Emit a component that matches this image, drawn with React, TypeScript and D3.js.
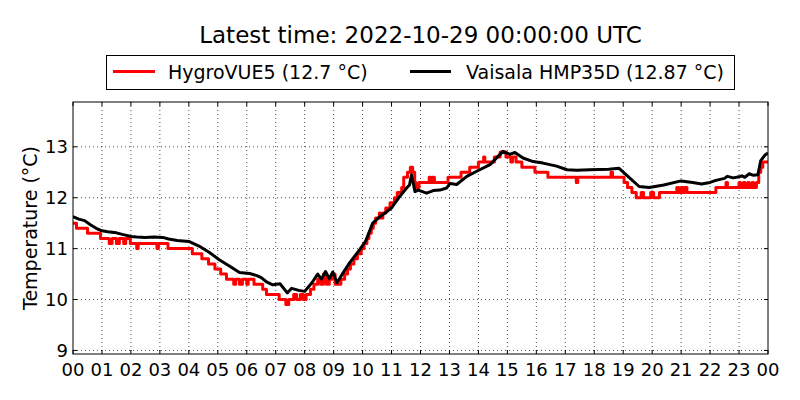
import React from 'react';
import * as d3 from 'd3';

// Vaisala HMP35D, hours since midnight and °C
const hmpHours = [
  0.0, 0.2, 0.4, 0.6, 0.8, 1.0, 1.2, 1.5, 1.7, 2.0, 2.2, 2.5, 2.8, 3.1, 3.3, 3.6, 4.0, 4.35, 4.7, 5.05,
  5.4, 5.75, 6.1, 6.35, 6.5, 6.7, 6.9, 7.15, 7.4, 7.55, 7.8, 8.0, 8.25, 8.45, 8.58, 8.72, 8.85, 8.97, 9.12, 9.3,
  9.55, 9.9, 10.1, 10.35, 10.6, 10.83, 11.0, 11.29, 11.52, 11.62, 11.69, 11.81, 11.92, 12.21, 12.44, 12.67, 12.9, 13.02, 13.25, 13.6,
  13.94, 14.4, 14.85, 15.09, 15.26, 15.54, 15.89, 16.23, 16.7, 17.06, 17.4, 17.85, 18.5, 18.85, 19.2, 19.55, 19.9, 20.4, 21.0, 21.4,
  21.7, 22.0, 22.2, 22.5, 22.6, 22.8, 23.0, 23.1, 23.2, 23.35, 23.5, 23.65, 23.75, 23.9, 24.0,
];
const hmpTemp = [
  11.63, 11.58, 11.55, 11.47, 11.4, 11.35, 11.33, 11.31, 11.28, 11.24, 11.23, 11.22, 11.23, 11.22, 11.19, 11.16, 11.14, 11.05, 10.93, 10.78,
  10.66, 10.53, 10.51, 10.47, 10.43, 10.34, 10.29, 10.31, 10.13, 10.22, 10.18, 10.16, 10.33, 10.5, 10.4, 10.55, 10.41, 10.54, 10.33, 10.5,
  10.72, 10.98, 11.14, 11.5, 11.63, 11.72, 11.8, 12.03, 12.19, 12.25, 12.45, 12.12, 12.15, 12.09, 12.14, 12.15, 12.19, 12.28, 12.26, 12.42,
  12.52, 12.65, 12.91, 12.85, 12.89, 12.78, 12.71, 12.68, 12.62, 12.55, 12.54, 12.55, 12.56, 12.58, 12.4, 12.22, 12.2, 12.25, 12.33, 12.3,
  12.27, 12.3, 12.34, 12.38, 12.42, 12.39, 12.41, 12.43, 12.4, 12.47, 12.44, 12.45, 12.73, 12.84, 12.88,
];

// HygroVUE5, 0.1 °C resolution, value holds from each time until the next
const hvHours = [
  0.0, 0.12, 0.5, 0.95, 1.25, 1.35, 1.5, 1.6, 1.75, 1.82, 1.98, 2.05, 2.2, 2.25, 2.9, 2.95, 3.28, 4.12, 4.45, 4.68,
  4.9, 5.1, 5.3, 5.55, 5.62, 5.75, 5.85, 6.0, 6.05, 6.25, 6.55, 6.68, 7.12, 7.35, 7.45, 7.62, 7.72, 7.85, 7.95, 8.05,
  8.2, 8.32, 8.45, 8.55, 8.65, 8.75, 8.85, 8.95, 9.05, 9.25, 9.38, 9.48, 9.58, 9.7, 9.82, 9.95, 10.05, 10.15, 10.22, 10.3,
  10.37, 10.45, 10.58, 10.62, 10.7, 10.8, 10.95, 11.1, 11.2, 11.35, 11.42, 11.55, 11.65, 11.73, 11.8, 11.85, 11.95, 12.3, 12.36, 12.42,
  12.48, 12.95, 13.4, 13.7, 14.0, 14.18, 14.22, 14.55, 14.75, 14.95, 15.12, 15.18, 15.3, 15.5, 15.95, 16.4, 17.38, 17.43, 18.58, 18.63,
  19.03, 19.15, 19.3, 19.45, 19.62, 19.7, 19.95, 20.05, 20.25, 20.85, 20.92, 21.0, 21.07, 21.12, 21.2, 22.2, 22.55, 22.6, 23.0, 23.05,
  23.15, 23.2, 23.3, 23.35, 23.45, 23.5, 23.6, 23.68, 23.75, 23.82, 24.0,
];
const hvTemp = [
  11.5, 11.4, 11.3, 11.2, 11.1, 11.2, 11.1, 11.2, 11.1, 11.2, 11.1, 11.1, 11.0, 11.1, 11.0, 11.1, 11.0, 10.9, 10.8, 10.7,
  10.6, 10.5, 10.4, 10.3, 10.4, 10.3, 10.4, 10.3, 10.4, 10.3, 10.2, 10.1, 10.0, 9.9, 10.0, 10.1, 10.0, 10.1, 10.0, 10.1,
  10.2, 10.3, 10.4, 10.3, 10.5, 10.3, 10.4, 10.5, 10.3, 10.4, 10.5, 10.6, 10.7, 10.8, 10.9, 11.0, 11.1, 11.2, 11.3, 11.4,
  11.5, 11.6, 11.7, 11.6, 11.7, 11.8, 11.9, 12.0, 12.1, 12.2, 12.4, 12.5, 12.6, 12.5, 12.3, 12.2, 12.3, 12.4, 12.3, 12.4,
  12.3, 12.4, 12.5, 12.6, 12.7, 12.8, 12.7, 12.8, 12.9, 12.8, 12.7, 12.8, 12.7, 12.6, 12.5, 12.4, 12.3, 12.4, 12.5, 12.4,
  12.3, 12.2, 12.1, 12.0, 12.1, 12.0, 12.1, 12.0, 12.1, 12.2, 12.1, 12.2, 12.1, 12.2, 12.1, 12.2, 12.3, 12.2, 12.3, 12.2,
  12.3, 12.2, 12.3, 12.2, 12.3, 12.2, 12.3, 12.5, 12.6, 12.7, 12.7,
];

const hourTicks = d3.range(0, 25);
const tempTicks = [9, 10, 11, 12, 13];
const titleText = 'Latest time: 2022-10-29 00:00:00 UTC';
const hvLabel = 'HygroVUE5 (12.7 °C)';
const hmpLabel = 'Vaisala HMP35D (12.87 °C)';

const W = 800;
const H = 400;
const margin = { top: 102, right: 32, bottom: 46, left: 73 };
const font = '"DejaVu Sans", sans-serif';

const App: React.FC = () => {
  const x = d3.scaleLinear().domain([0, 24]).range([margin.left, W - margin.right]);
  const y = d3.scaleLinear().domain([8.93, 13.88]).range([H - margin.bottom, margin.top]);
  const [x0, x1] = x.range();
  const [y0, y1] = y.range();

  const hmpLine = d3.line<number>()
    .x((_, i) => x(hmpHours[i]))
    .y(d => y(d));
  const hvLine = d3.line<number>()
    .x((_, i) => x(hvHours[i]))
    .y(d => y(d))
    .curve(d3.curveStepAfter);

  return (
    <svg width={W} height={H} style={{ position: 'absolute', left: 0, top: 0, background: '#fff' }} fontFamily={font}>
      <defs>
        <clipPath id="plot">
          <rect x={x0} y={y1} width={x1 - x0} height={y0 - y1} />
        </clipPath>
      </defs>

      <text x={(x0 + x1) / 2} y={43} textAnchor="middle" fontSize={23}>{titleText}</text>

      {/* grid */}
      <g stroke="#000" strokeWidth={0.7} strokeDasharray="1,3">
        {hourTicks.slice(1, -1).map(h => (
          <line key={'gx' + h} x1={x(h)} x2={x(h)} y1={y1} y2={y0} />
        ))}
        {tempTicks.map(t => (
          <line key={'gy' + t} x1={x0} x2={x1} y1={y(t)} y2={y(t)} />
        ))}
      </g>

      <g clipPath="url(#plot)" fill="none" strokeLinejoin="round">
        <path d={hvLine(hvTemp) ?? ''} stroke="#ff0000" strokeWidth={3} />
        <path d={hmpLine(hmpTemp) ?? ''} stroke="#000" strokeWidth={3} />
      </g>

      {/* ticks pointing in, all four sides */}
      <g stroke="#000" strokeWidth={1}>
        {hourTicks.map(h => (
          <g key={'tx' + h}>
            <line x1={x(h)} x2={x(h)} y1={y0} y2={y0 - 4} />
            <line x1={x(h)} x2={x(h)} y1={y1} y2={y1 + 4} />
          </g>
        ))}
        {tempTicks.map(t => (
          <g key={'ty' + t}>
            <line x1={x0} x2={x0 + 4} y1={y(t)} y2={y(t)} />
            <line x1={x1} x2={x1 - 4} y1={y(t)} y2={y(t)} />
          </g>
        ))}
      </g>
      <rect x={x0} y={y1} width={x1 - x0} height={y0 - y1} fill="none" stroke="#000" strokeWidth={1} />

      <g fontSize={18}>
        {hourTicks.map(h => (
          <text key={'lx' + h} x={x(h)} y={375.5} textAnchor="middle">{d3.format('02d')(h % 24)}</text>
        ))}
        {tempTicks.map(t => (
          <text key={'ly' + t} x={x0 - 5} y={y(t)} dy="0.36em" textAnchor="end">{t}</text>
        ))}
      </g>
      <text transform={`translate(37,${(y0 + y1) / 2}) rotate(-90)`} textAnchor="middle" fontSize={19}>Temperature (°C)</text>

      {/* legend */}
      <g fontSize={19}>
        <rect x={106.5} y={55.5} width={628} height={34} fill="#fff" stroke="#000" strokeWidth={1} />
        <line x1={113} x2={155} y1={71.5} y2={71.5} stroke="#ff0000" strokeWidth={3} />
        <text x={168} y={78.5}>{hvLabel}</text>
        <line x1={410} x2={451} y1={71.5} y2={71.5} stroke="#000" strokeWidth={3} />
        <text x={466} y={78.5}>{hmpLabel}</text>
      </g>
    </svg>
  );
};

export default App;
